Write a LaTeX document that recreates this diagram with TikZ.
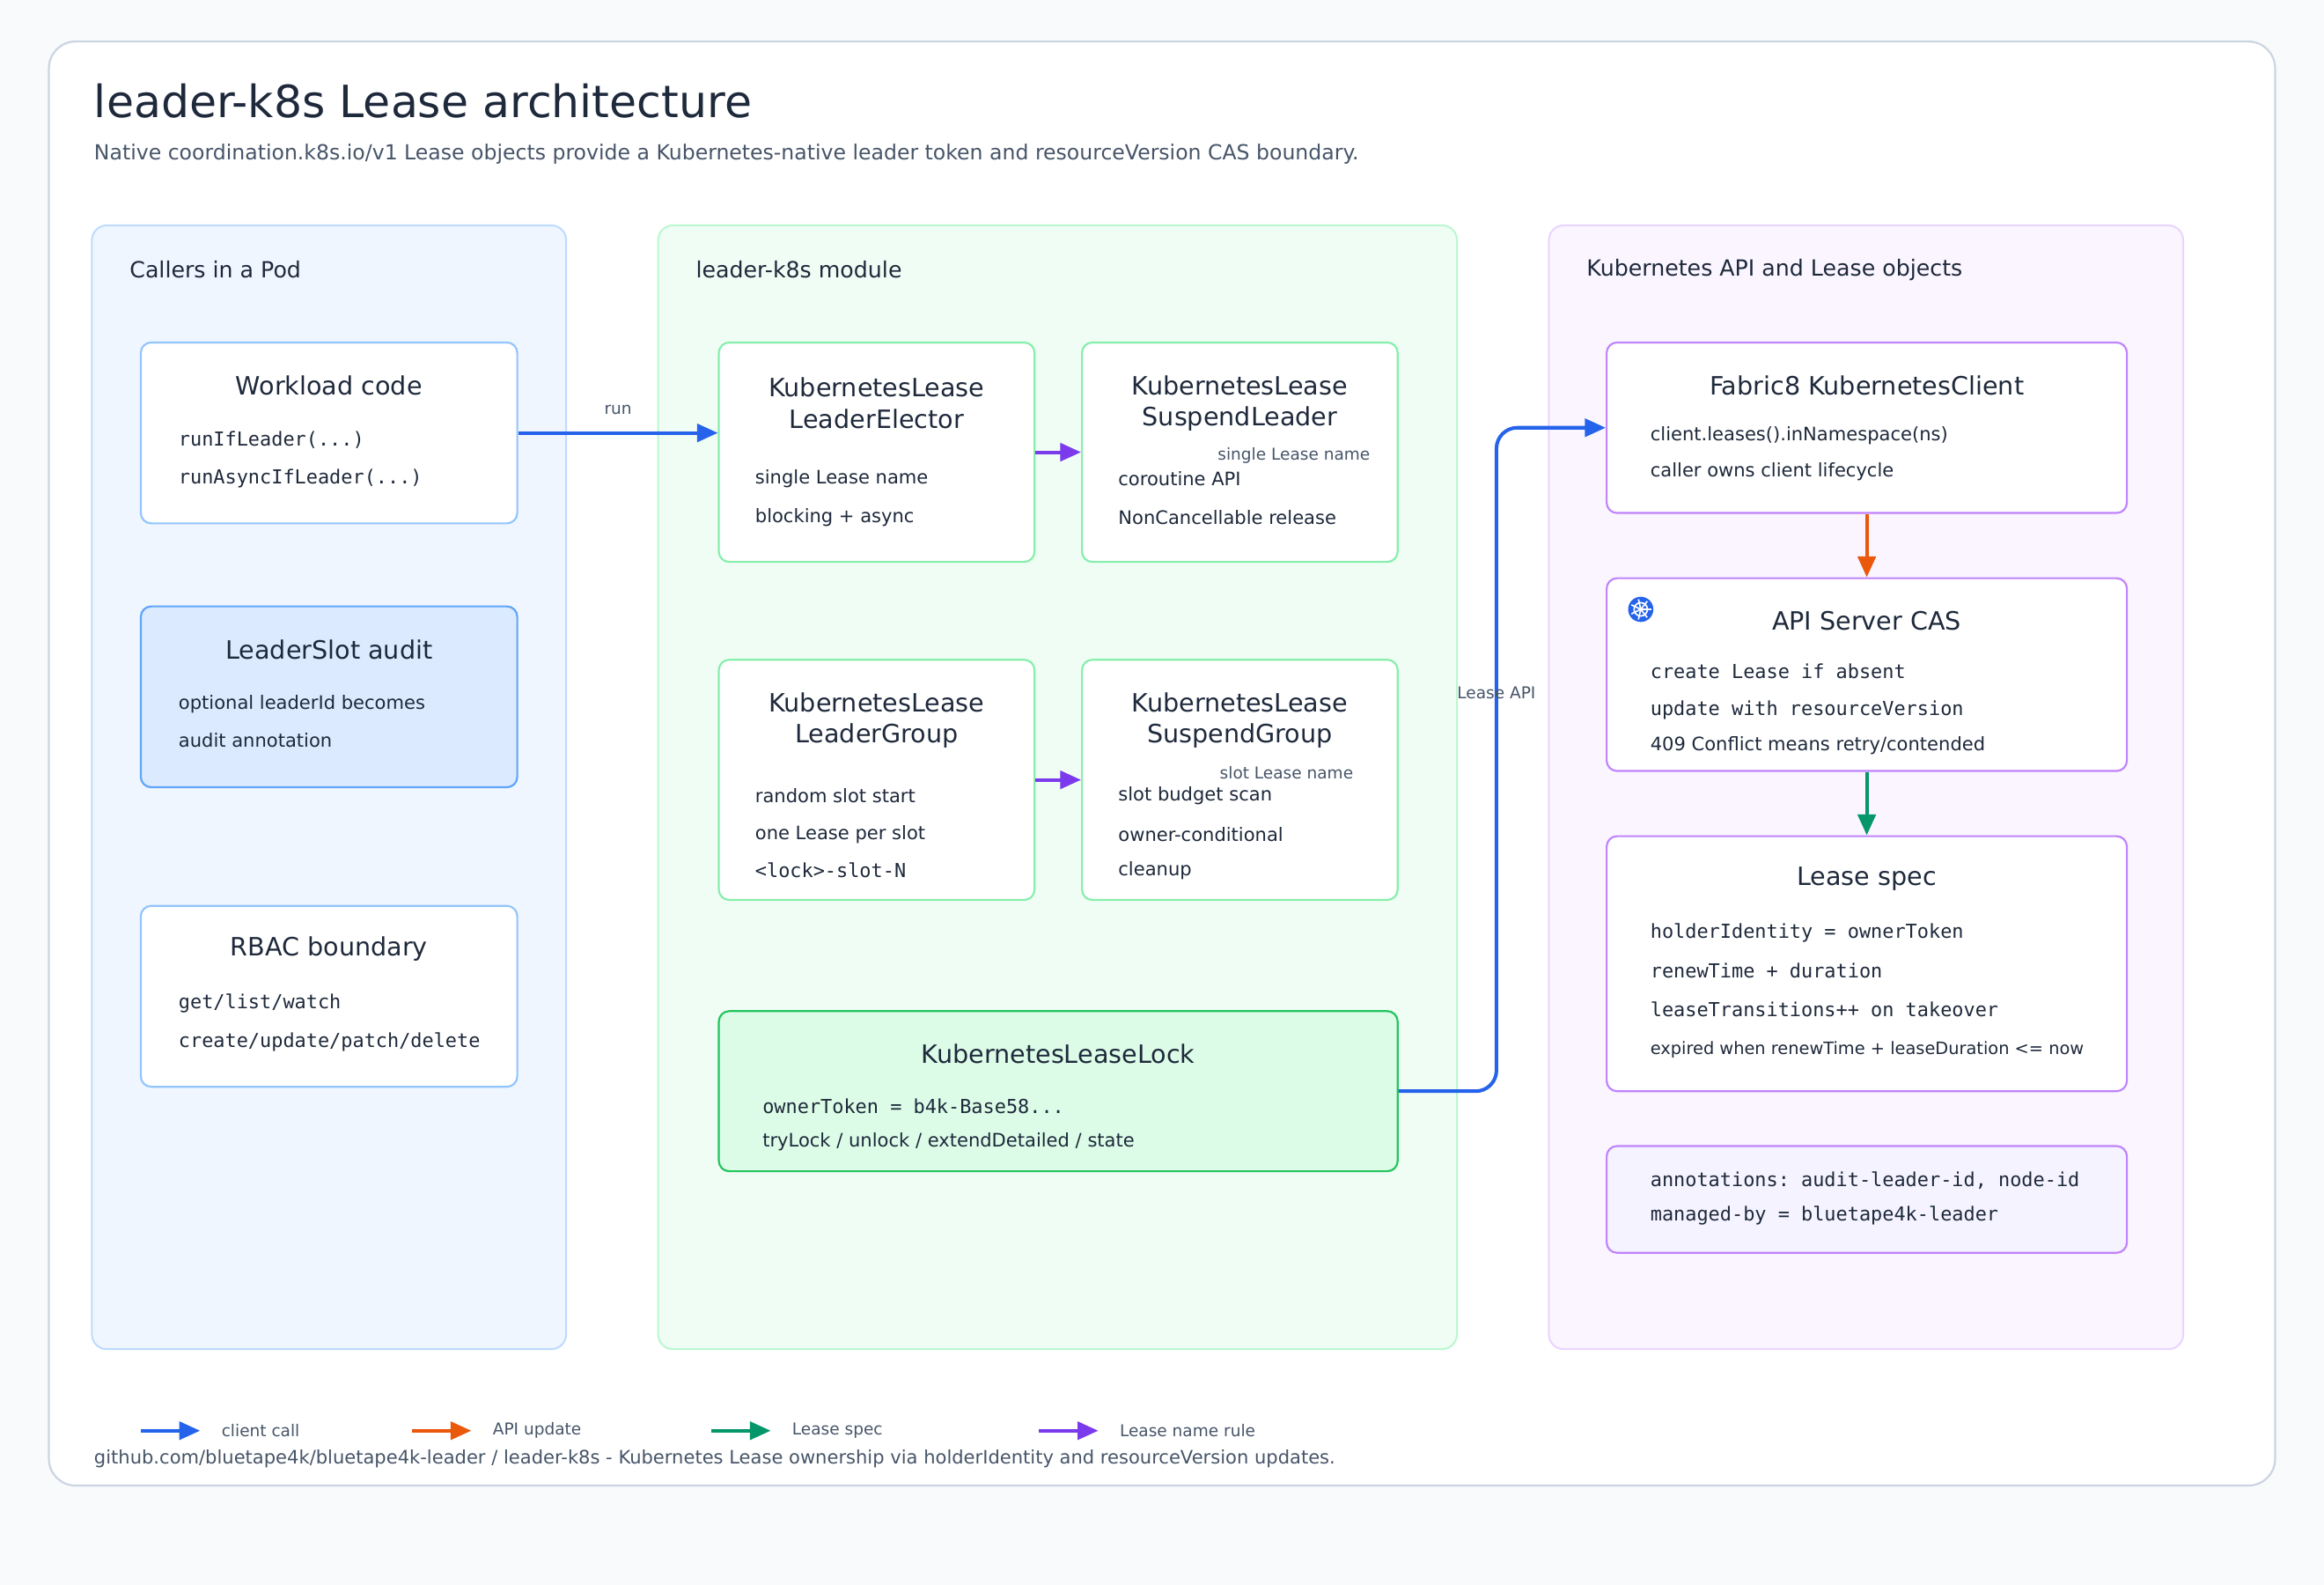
\documentclass[tikz,border=0pt]{standalone}
\usepackage{fontspec}
\setmainfont{DejaVu Sans}
\setmonofont{DejaVu Sans Mono}
\usepackage{tikz}
\usetikzlibrary{arrows.meta,calc,positioning}
\definecolor{ink}{HTML}{1E293B}
\definecolor{sub}{HTML}{475569}
\definecolor{cblue}{HTML}{2563EB}
\definecolor{corange}{HTML}{EA580C}
\definecolor{cgreen}{HTML}{059669}
\definecolor{cpurple}{HTML}{7C3AED}
\definecolor{slate}{HTML}{F8FAFC}
\definecolor{frame}{HTML}{CBD5E1}
\definecolor{pbl}{HTML}{BFDBFE}
\definecolor{pbf}{HTML}{EFF6FF}
\definecolor{pgl}{HTML}{BBF7D0}
\definecolor{pgf}{HTML}{F0FDF4}
\definecolor{ppl}{HTML}{E9D5FF}
\definecolor{ppf}{HTML}{FAF5FF}
\definecolor{bxb}{HTML}{93C5FD}
\definecolor{bxbd}{HTML}{60A5FA}
\definecolor{bxbf}{HTML}{DBEAFE}
\definecolor{bxg}{HTML}{86EFAC}
\definecolor{bxgd}{HTML}{22C55E}
\definecolor{bxgf}{HTML}{DCFCE7}
\definecolor{bxp}{HTML}{C084FC}
\definecolor{bxpf}{HTML}{F5F3FF}
\newcommand{\fs}[1]{\fontsize{#1}{#1}\selectfont}
\tikzset{
  panel/.style={draw=#1, line width=1.2pt, rounded corners=10pt},
  box/.style={draw=#1, fill=white, line width=1.3pt, rounded corners=7pt},
  ttl/.style={text=ink, font=\fs{17}, align=center},
  txt/.style={text=ink, font=\fs{12.5}, anchor=west},
  mono/.style={text=ink, font=\ttfamily\fs{13}, anchor=west},
  tag/.style={text=sub, font=\fs{11}},
  link/.style={-{Triangle[length=14pt,width=12pt]}, line width=2.4pt, draw=#1},
}
\begin{document}
\begin{tikzpicture}[x=1pt,y=-1pt]
\useasboundingbox[fill=slate] (0,0) rectangle (1568,1069);
\draw[draw=frame, fill=white, line width=1.3pt, rounded corners=18pt] (33,28) rectangle (1535,1002);
\node[anchor=west, text=ink, font=\fs{30}] (title) at (60,68) {leader-k8s Lease architecture};
\node[anchor=west, text=sub, font=\fs{14}] (subtitle) at (60,104) {Native coordination.k8s.io/v1 Lease objects provide a Kubernetes-native leader token and resourceVersion CAS boundary.};
% panels
\draw[panel=pbl, fill=pbf] (62,152) rectangle (382,910);
\draw[panel=pgl, fill=pgf] (444,152) rectangle (983,910);
\draw[panel=ppl, fill=ppf] (1045,152) rectangle (1473,910);
\node[anchor=west, text=ink, font=\fs{15}] at (84,182) {Callers in a Pod};
\node[anchor=west, text=ink, font=\fs{15}] at (466,182) {leader-k8s module};
\node[anchor=west, text=ink, font=\fs{15}] at (1067,182) {Kubernetes API and Lease objects};
% callers
\node[box=bxb, minimum width=254, minimum height=122] (work) at (222,292) {};
\node[ttl] at (222,260) {Workload code};
\node[mono] at (117,297) {runIfLeader(...)};
\node[mono] at (117,323) {runAsyncIfLeader(...)};
\node[box=bxbd, fill=bxbf, minimum width=254, minimum height=122] (audit) at (222,470) {};
\node[ttl] at (222,438) {LeaderSlot audit};
\node[txt] at (117,475) {optional leaderId becomes};
\node[txt] at (117,499) {audit annotation};
\node[box=bxb, minimum width=254, minimum height=122] (rbac) at (222,672) {};
\node[ttl] at (222,640) {RBAC boundary};
\node[mono] at (117,677) {get/list/watch};
\node[mono] at (117,703) {create/update/patch/delete};
% module
\node[box=bxg, minimum width=213, minimum height=148] (elector) at (591.5,305) {};
\node[ttl] at (591.5,272) {KubernetesLease\\[4pt]LeaderElector};
\node[txt] at (506,323) {single Lease name};
\node[txt] at (506,349) {blocking + async};
\node[box=bxg, minimum width=213, minimum height=148] (suspL) at (836.5,305) {};
\node[ttl] at (836.5,272) {KubernetesLease\\[4pt]SuspendLeader};
\node[tag] at (873,307) {single Lease name};
\node[txt] at (751,323) {coroutine API};
\node[txt] at (751,349) {NonCancellable release};
\node[box=bxg, minimum width=213, minimum height=162] (group) at (591.5,526) {};
\node[ttl] at (591.5,486) {KubernetesLease\\[4pt]LeaderGroup};
\node[txt] at (506,537) {random slot start};
\node[txt] at (506,563) {one Lease per slot};
\node[mono] at (506,587) {<lock>-slot-N};
\node[box=bxg, minimum width=213, minimum height=162] (suspG) at (836.5,526) {};
\node[ttl] at (836.5,486) {KubernetesLease\\[4pt]SuspendGroup};
\node[tag] at (868,521) {slot Lease name};
\node[txt] at (751,537) {slot budget scan};
\node[txt] at (751,563) {owner-conditional};
\node[txt] at (751,587) {cleanup};
\node[box=bxgd, fill=bxgf, minimum width=458, minimum height=108] (lock) at (714,736) {};
\node[ttl] at (714,711) {KubernetesLeaseLock};
\node[mono] at (511,746) {ownerToken = b4k-Base58...};
\node[txt] at (511,770) {tryLock / unlock / extendDetailed / state};
% kubernetes
\node[box=bxp, minimum width=351, minimum height=115] (client) at (1259.5,288.5) {};
\node[ttl] at (1259.5,260) {Fabric8 KubernetesClient};
\node[txt] at (1110,294) {client.leases().inNamespace(ns)};
\node[txt] at (1110,318) {caller owns client lifecycle};
\node[box=bxp, minimum width=351, minimum height=130] (cas) at (1259.5,455) {};
\node[ttl] at (1259.5,419) {API Server CAS};
\node[mono] at (1110,453) {create Lease if absent};
\node[mono] at (1110,479) {update with resourceVersion};
\node[txt] at (1110,503) {409 Conflict means retry/contended};
\node[circle, fill=cblue, minimum size=17pt, inner sep=0pt] (k8s) at (1107,411) {};
\draw[white, line width=1pt] (k8s.center) circle (4.5pt);
\foreach \a in {0,51.4,...,360} \draw[white, line width=1pt] (k8s.center) -- ++(\a:7pt);
\node[box=bxp, minimum width=351, minimum height=172] (spec) at (1259.5,650) {};
\node[ttl] at (1259.5,593) {Lease spec};
\node[mono] at (1110,629) {holderIdentity = ownerToken};
\node[mono] at (1110,655) {renewTime + duration};
\node[mono] at (1110,681) {leaseTransitions++ on takeover};
\node[txt, font=\fs{11.5}] at (1110,708) {expired when renewTime + leaseDuration <= now};
\node[box=bxp, fill=bxpf, minimum width=351, minimum height=72] (annot) at (1259.5,809) {};
\node[mono] at (1110,796) {annotations: audit-leader-id, node-id};
\node[mono] at (1110,820) {managed-by = bluetape4k-leader};
% connectors
\draw[link=cblue] (work.east) -- (work.east -| elector.west) node[midway, above=8pt, tag] {run};
\draw[link=cpurple] (elector.east) -- (suspL.west);
\draw[link=cpurple] (group.east) -- (suspG.west);
\draw[link=cblue, rounded corners=14pt] (lock.east) -- ++(66,0) |- (client.west) node[pos=0.3, tag] {Lease API};
\draw[link=corange] (client.south) -- (cas.north);
\draw[link=cgreen] (cas.south) -- (spec.north);
% legend
\coordinate (l1) at (95,965); \coordinate (l2) at (278,965);
\coordinate (l3) at (480,965); \coordinate (l4) at (701,965);
\draw[link=cblue] (l1) -- ++(40,0) node[right=10pt, tag] {client call};
\draw[link=corange] (l2) -- ++(40,0) node[right=10pt, tag] {API update};
\draw[link=cgreen] (l3) -- ++(40,0) node[right=10pt, tag] {Lease spec};
\draw[link=cpurple] (l4) -- ++(40,0) node[right=10pt, tag] {Lease name rule};
\node[anchor=west, text=sub, font=\fs{12.5}] (footer) at (60,984) {github.com/bluetape4k/bluetape4k-leader / leader-k8s - Kubernetes Lease ownership via holderIdentity and resourceVersion updates.};
\end{tikzpicture}
\end{document}
